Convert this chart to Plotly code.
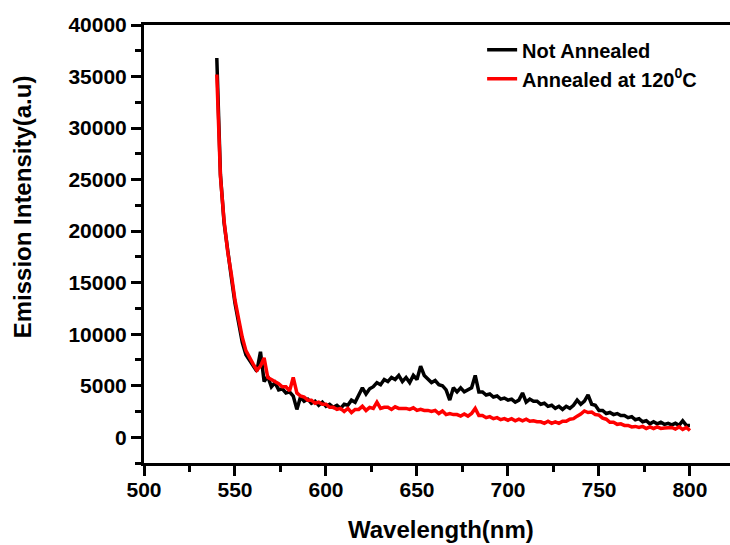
import plotly.graph_objects as go

wavelength = list(range(540, 801, 2))

not_annealed = [
    36800, 25500, 20800, 17800, 15500, 13000, 11200, 9200, 8000, 7500,
    6900, 6400, 8300, 5400, 5900, 4900, 5300, 4600, 4700, 4300,
    4400, 4000, 2700, 3900, 3500, 3700, 3300, 3500, 3100, 3400,
    3000, 3200, 2900, 3100, 2800, 3200, 3100, 3600, 3400, 4100,
    4800, 4200, 4700, 4900, 5300, 5100, 5600, 5400, 5800, 5600,
    6000, 5400, 5800, 5300, 6000, 5600, 6900, 6000, 5600, 5300,
    5500, 5100, 5000, 4600, 3600, 4800, 4400, 4800, 4400, 4600,
    4800, 6000, 4400, 4400, 4100, 4200, 3900, 4000, 3700, 3800,
    3600, 3700, 3400, 3600, 4300, 3400, 3700, 3500, 3500, 3200,
    3300, 3000, 3100, 2800, 3000, 2700, 3000, 2800, 3100, 3600,
    3200, 3500, 4100, 3200, 3100, 2600, 2600, 2300, 2400, 2200,
    2300, 2100, 2100, 1900, 2000, 1700, 1800, 1500, 1600, 1300,
    1500, 1300, 1450, 1250, 1350, 1200, 1350, 1150, 1600, 1150,
    1150,
]

annealed_120 = [
    35200, 25300, 21000, 18000, 15800, 13300, 11500, 9700, 8400, 7700,
    7100, 6500, 6900, 7700, 5800, 5600, 5400, 5200, 4900, 4900,
    4500, 5800, 4300, 4000, 3900, 3600, 3600, 3300, 3400, 3200,
    3200, 2900, 2900, 2700, 2800, 2500, 2800, 2400, 2700, 2700,
    3000, 2600, 2900, 2800, 3400, 2800, 2900, 2900, 2700, 2950,
    2800, 2800, 2800, 2700, 2850, 2600, 2700, 2600, 2600, 2500,
    2600, 2300, 2550, 2200, 2300, 2200, 2200, 2050, 2250, 2050,
    2300, 2800, 2100, 2100, 1900, 2000, 1800, 1900, 1700, 1800,
    1650, 1800, 1600, 1750, 1600, 1750, 1550, 1600, 1500, 1500,
    1350, 1550, 1350, 1500, 1350, 1550, 1550, 1750, 1800, 2050,
    2250, 2550, 2400, 2450, 2200, 2150, 1850, 1750, 1450, 1450,
    1250, 1300, 1150, 1150, 1000, 1050, 950, 1050, 850, 1000,
    850, 1000, 850, 900, 900, 950, 800, 1000, 750, 950,
    650,
]

series_names = ["Not Annealed", "Annealed at 120<sup>0</sup>C"]
series_colors = ["#000000", "#ff0000"]

x_tick_vals = [500, 550, 600, 650, 700, 750, 800]
y_tick_vals = [0, 5000, 10000, 15000, 20000, 25000, 30000, 35000, 40000]

FONT = "Liberation Sans, Arial, sans-serif"

fig = go.Figure()
for name, ys, col in zip(series_names, [not_annealed, annealed_120], series_colors):
    fig.add_trace(go.Scatter(x=wavelength, y=ys, mode="lines", name=name,
                             line=dict(color=col, width=3.5)))

axis_common = dict(
    showgrid=False, zeroline=False, showline=True, linecolor="black", linewidth=3,
    ticks="outside", ticklen=10, tickwidth=3, tickcolor="black",
    tickfont=dict(family=FONT, size=21, color="black", weight="bold"),
)

fig.update_xaxes(range=[500, 822], tickvals=x_tick_vals, mirror=True, ticklabelstandoff=-4,
                 minor=dict(dtick=25, tick0=500, ticks="outside", ticklen=6, tickwidth=3, tickcolor="black"),
                 **axis_common)
fig.update_yaxes(range=[-2500, 40000], tickvals=y_tick_vals, tickformat="d",
                 minor=dict(dtick=2500, tick0=0, ticks="outside", ticklen=6, tickwidth=3, tickcolor="black"),
                 **axis_common)

fig.add_annotation(text="Wavelength(nm)", xref="paper", yref="paper", x=0.507, y=-0.151,
                   xanchor="center", yanchor="middle", showarrow=False,
                   font=dict(family=FONT, size=24, color="black", weight="bold"))
fig.add_annotation(text="Emission Intensity(a.u)", xref="paper", yref="paper", x=-0.208, y=0.584,
                   xanchor="center", yanchor="middle", showarrow=False, textangle=-90,
                   font=dict(family=FONT, size=24, color="black", weight="bold"))

fig.update_layout(
    width=730, height=545,
    margin=dict(l=144, r=0, t=25, b=82),
    paper_bgcolor="white", plot_bgcolor="white",
    showlegend=True,
    legend=dict(x=0.577, y=0.988, xanchor="left", yanchor="top", bgcolor="rgba(0,0,0,0)",
                font=dict(family=FONT, size=20, color="black", weight="bold")),
)

fig.write_html("out.html")
